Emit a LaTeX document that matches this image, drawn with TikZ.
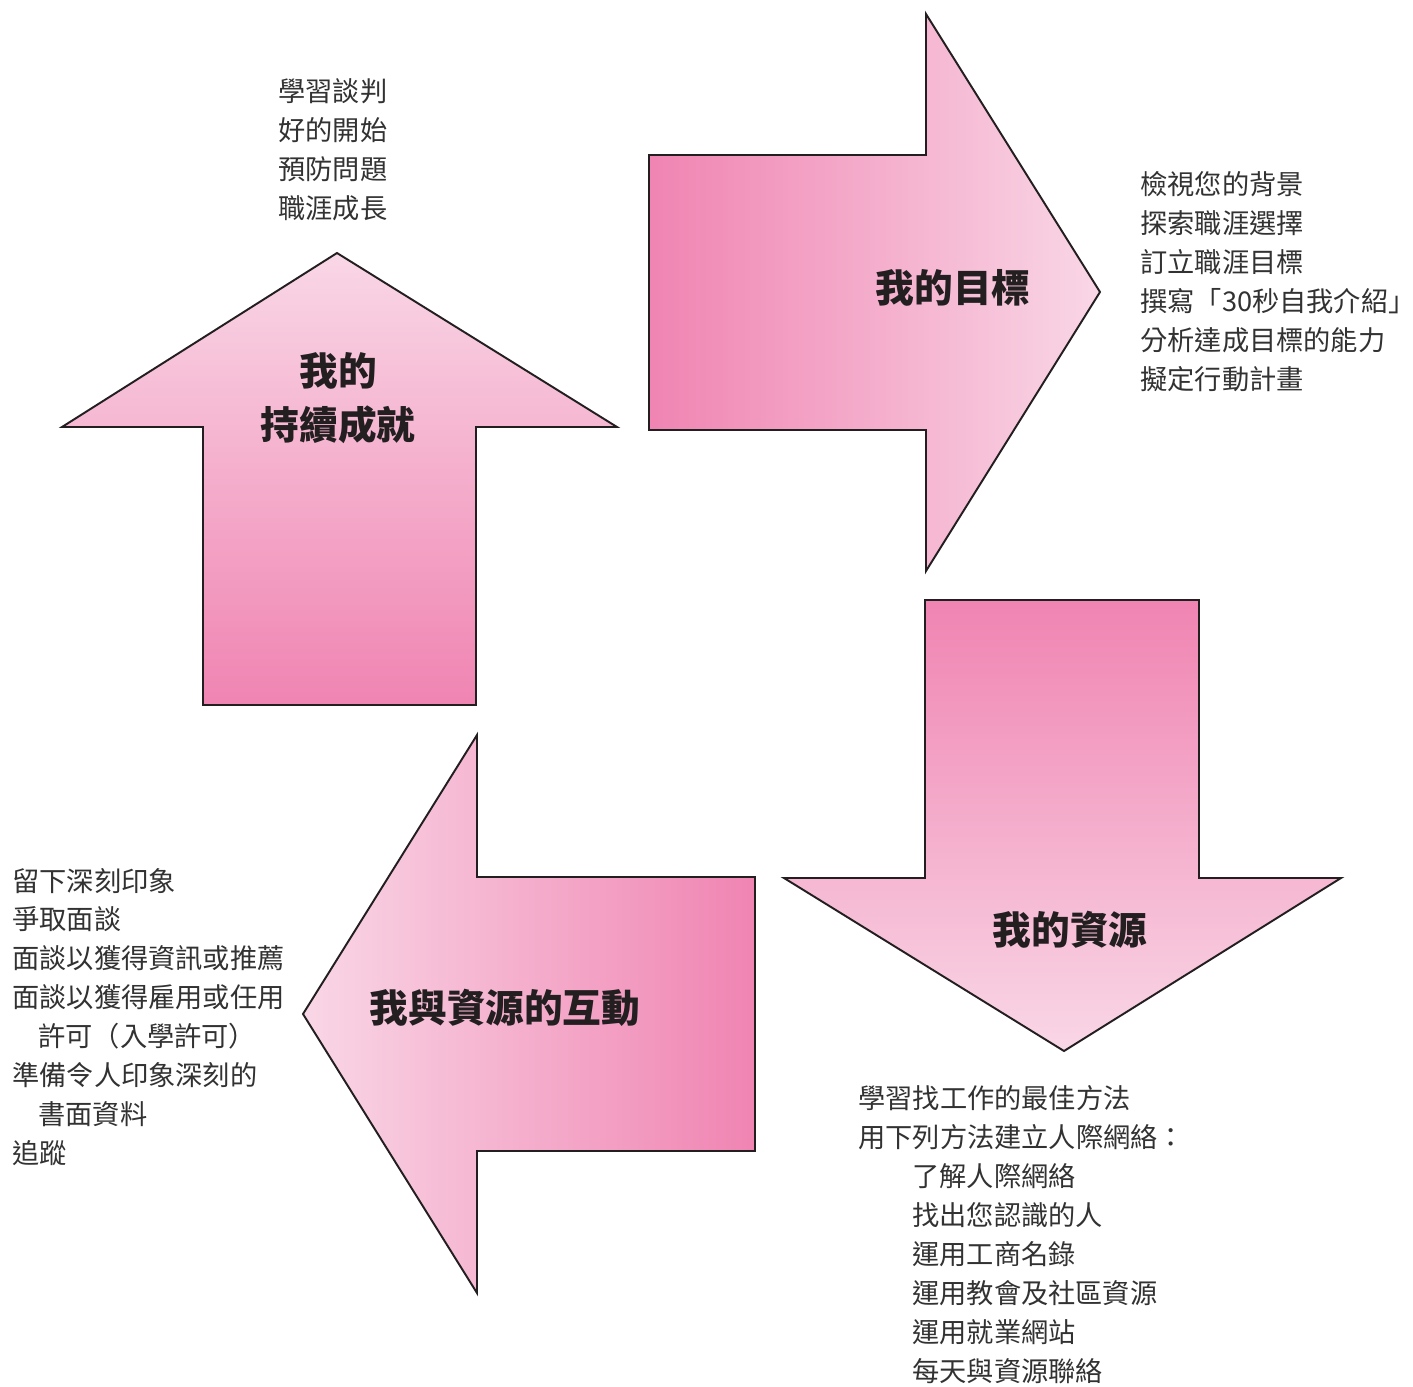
\documentclass[tikz,border=0pt]{standalone}
\usepackage{fontspec}
\newfontfamily\cjk{Noto Sans CJK TC}
\definecolor{pinkD}{RGB}{240,132,178}
\definecolor{pinkL}{RGB}{249,215,230}
\definecolor{lineC}{RGB}{35,31,32}
\definecolor{textC}{RGB}{50,50,50}
\definecolor{titleC}{RGB}{35,31,32}
\begin{document}
\begin{tikzpicture}[x=0.02cm,y=-0.02cm,
  arr/.style={draw=lineC, line width=1.1pt, line join=miter},
  ttl/.style={font=\cjk\bfseries\fontsize{22}{27}\selectfont, text=titleC, inner sep=0, align=center},
  itm/.style={font=\cjk\fontsize{15.5}{22}\selectfont, text=textC, inner sep=0, anchor=west}]
\useasboundingbox (0,0) rectangle (1413,1386);

% up arrow
\shadedraw[arr, top color=pinkL, bottom color=pinkD]
  (203,705) -- (203,427) -- (62,427) -- (337,253) -- (617,427) -- (476,427) -- (476,705) -- cycle;
% right arrow
\shadedraw[arr, left color=pinkD, right color=pinkL]
  (649,155) -- (926,155) -- (926,14) -- (1100,292) -- (926,571) -- (926,430) -- (649,430) -- cycle;
% down arrow
\shadedraw[arr, top color=pinkD, bottom color=pinkL]
  (925,600) -- (1199,600) -- (1199,878) -- (1341,878) -- (1064,1051) -- (784,878) -- (925,878) -- cycle;
% left arrow
\shadedraw[arr, left color=pinkL, right color=pinkD]
  (755,877) -- (755,1151) -- (477,1151) -- (477,1293) -- (303,1014) -- (477,735) -- (477,877) -- cycle;

% titles
\node[ttl] (t1a) at (338,371) {我的};
\node[ttl] (t1b) at (338,425) {持續成就};
\node[ttl] (t2) at (953,288) {我的目標};
\node[ttl] (t3) at (1070,930) {我的資源};
\node[ttl] (t4) at (505,1008) {我與資源的互動};

% top-left list
\node[itm] (a1) at (278,91) {學習談判};
\node[itm] (a2) at (278,130) {好的開始};
\node[itm] (a3) at (278,169) {預防問題};
\node[itm] (a4) at (278,208) {職涯成長};

% right list
\node[itm] (b1) at (1140,184) {檢視您的背景};
\node[itm] (b2) at (1140,223) {探索職涯選擇};
\node[itm] (b3) at (1140,262) {訂立職涯目標};
\node[itm] (b4) at (1140,301) {撰寫「30秒自我介紹」};
\node[itm] (b5) at (1140,340) {分析達成目標的能力};
\node[itm] (b6) at (1140,379) {擬定行動計畫};

% left list
\node[itm] (c1) at (12,881) {留下深刻印象};
\node[itm] (c2) at (12,919) {爭取面談};
\node[itm] (c3) at (12,958) {面談以獲得資訊或推薦};
\node[itm] (c4) at (12,997) {面談以獲得雇用或任用};
\node[itm] (c5) at (38,1036) {許可（入學許可）};
\node[itm] (c6) at (12,1075) {準備令人印象深刻的};
\node[itm] (c7) at (38,1114) {書面資料};
\node[itm] (c8) at (12,1153) {追蹤};

% bottom list
\node[itm] (d1) at (858,1098) {學習找工作的最佳方法};
\node[itm] (d2) at (858,1137) {用下列方法建立人際網絡：};
\node[itm] (d3) at (912,1176) {了解人際網絡};
\node[itm] (d4) at (912,1215) {找出您認識的人};
\node[itm] (d5) at (912,1254) {運用工商名錄};
\node[itm] (d6) at (912,1293) {運用教會及社區資源};
\node[itm] (d7) at (912,1332) {運用就業網站};
\node[itm] (d8) at (912,1371) {每天與資源聯絡};
\end{tikzpicture}
\end{document}
